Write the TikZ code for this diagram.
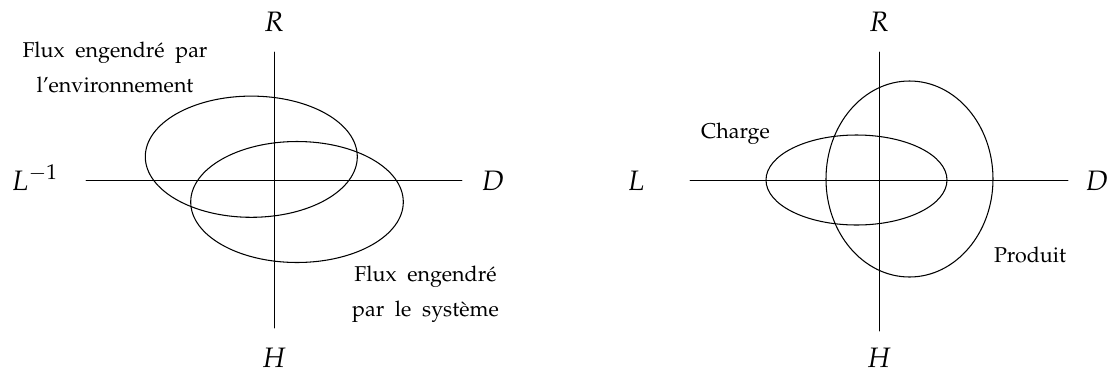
\documentclass[tikz,border=0pt]{standalone}
\usepackage[T1]{fontenc}
\usepackage{mathpazo}
\usetikzlibrary{positioning}

\newcommand\espacemots{\spaceskip=0.5em plus 0.1em\relax}

\tikzset{
	axe/.style={line width=0.55pt},
	flux/.style={line width=0.6pt},
	pole/.style={anchor=base,inner sep=0pt,font=\fontsize{16}{18}\selectfont},
	etiq/.style={anchor=base,inner sep=0pt,align=center,font=\fontsize{12.2}{19.8}\selectfont\espacemots}
}

\begin{document}
\begin{tikzpicture}[line cap=round,line join=round,x=0.02cm,y=-0.02cm]
	\useasboundingbox (0,0) rectangle (1110,373);
	
	% schema de gauche
	\coordinate (o1) at (274,180);
	\coordinate (n1) at (274,52);
	\coordinate (s1) at (274,328);
	\coordinate (w1) at (86,180);
	\coordinate (e1) at (462,180);
	\draw [axe] (w1)-- (e1);
	\draw [axe] (n1)-- (s1);
	
	\node[pole] (R1) at (274,31) {$R$};
	\node[pole] (H1) at (274,367.5) {$H$};
	\node[pole,anchor=base west] (Linv) at (11,190) {$L^{-1}$};
	\node[pole] (D1) at (493,190) {$D$};
	
	\coordinate (cenv) at (251.3,156.7);
	\coordinate (csys) at (297,202);
	\draw [flux] (cenv) ellipse (106 and 60.6);
	\draw [flux] (csys) ellipse (106.3 and 60.5);
	
	% base = ligne du bas
	\node[etiq] (env) at (115,92) {Flux engendré par\\l'environnement};
	\node[etiq] (sys) at (425.5,316) {Flux engendré\\par le système};
	
	% schema de droite
	\coordinate (o2) at (879,180);
	\coordinate (n2) at (879,52);
	\coordinate (s2) at (879,331);
	\coordinate (w2) at (690,180);
	\coordinate (e2) at (1068,180);
	\draw [axe] (w2)-- (e2);
	\draw [axe] (n2)-- (s2);
	
	\node[pole] (R2) at (879,31) {$R$};
	\node[pole] (H2) at (879,367.5) {$H$};
	\node[pole] (L2) at (636,190) {$L$};
	\node[pole] (D2) at (1097,190) {$D$};
	
	\coordinate (cch) at (856.5,180);
	\coordinate (cpr) at (909.5,179);
	\draw [flux] (cch) ellipse (90.5 and 45);
	\draw [flux] (cpr) ellipse (83.5 and 98);
	
	\node[etiq] (charge) at (735.5,138) {Charge};
	\node[etiq] (produit) at (1030,262) {Produit};
\end{tikzpicture}
\end{document}
